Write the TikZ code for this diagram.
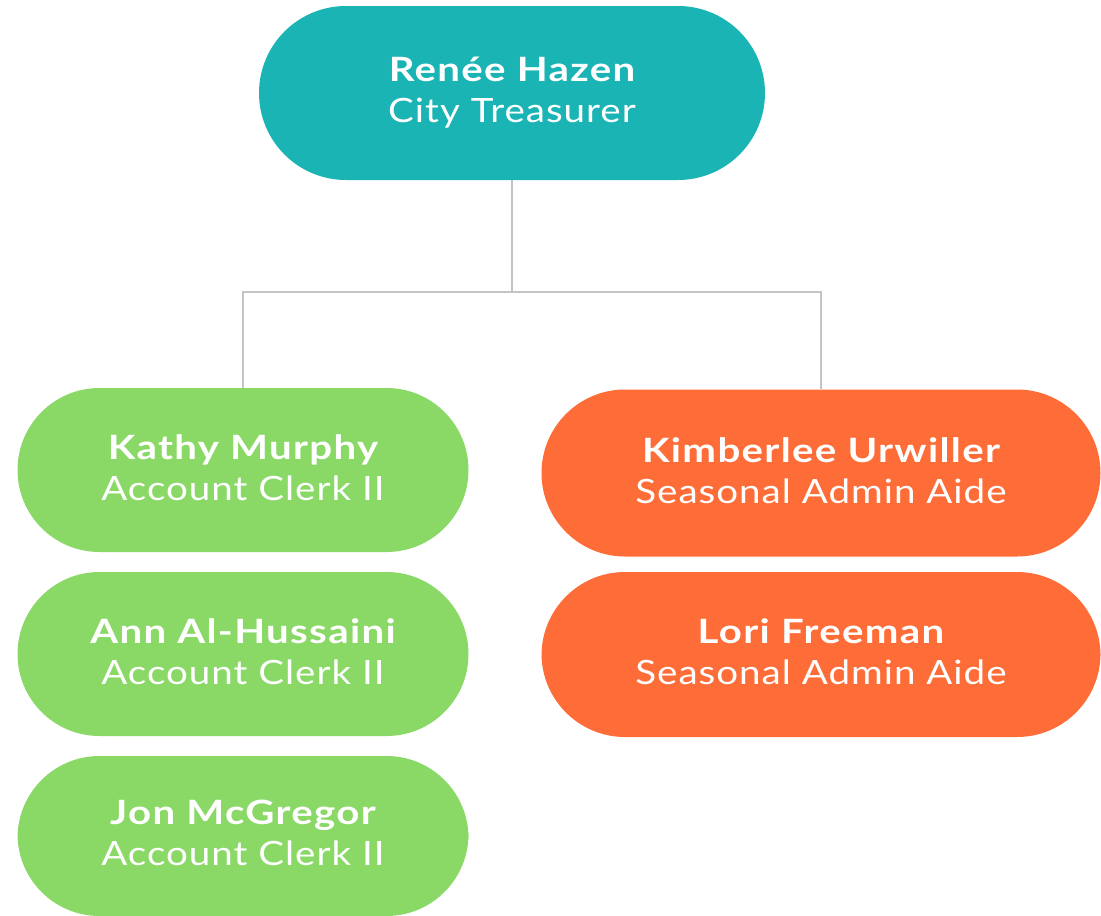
\documentclass[tikz,border=0pt]{standalone}
\usepackage{fontspec}
\setmainfont{Lato}
\newfontfamily\namefont{Lato}[UprightFont=* Bold, BoldFont=* Bold, FakeStretch=1.2, LetterSpace=4]
\newfontfamily\rolefont{Lato}[FakeStretch=1.15, LetterSpace=3]
\definecolor{teal}{HTML}{1BB4B5}
\definecolor{leaf}{HTML}{8AD967}
\definecolor{ember}{HTML}{FE6C37}
\definecolor{wire}{HTML}{C4C4C4}
\tikzset{
  x=1pt, y=-1pt,
  person/.style={rectangle, inner sep=0pt, text=white, align=center,
    font=\fontsize{33.5}{41}\selectfont},
  head/.style={person, fill=teal, minimum width=506pt, minimum height=174pt, rounded corners=87pt},
  clerk/.style={person, fill=leaf, minimum width=451pt, minimum height=164pt, rounded corners=82pt},
  aide/.style={person, fill=ember, minimum width=559pt, minimum height=167pt, rounded corners=83.5pt},
  conn/.style={draw=wire, line width=1.5pt},
}
% name in bold on the first line, job title below it
\newcommand{\who}[2]{{\namefont\vphantom{é}#1}\\{\rolefont #2\vphantom{y}}}
\begin{document}
\begin{tikzpicture}
\useasboundingbox (0,0) rectangle (1101,916);

\node[head]  (hazen)    at (512,93)    {\who{Renée Hazen}{City Treasurer}};
\node[clerk] (murphy)   at (243,470)   {\who{Kathy Murphy}{Account Clerk II}};
\node[clerk] (hussaini) at (243,654)   {\who{Ann Al-Hussaini}{Account Clerk II}};
\node[clerk, minimum height=160pt] (mcgregor) at (243,836) {\who{Jon McGregor}{Account Clerk II}};
\node[aide]  (urwiller) at (821,473)   {\who{Kimberlee Urwiller}{Seasonal Admin Aide}};
\node[aide, minimum height=165pt] (freeman) at (821,654.5) {\who{Lori Freeman}{Seasonal Admin Aide}};

% reporting lines
\coordinate (bus) at (512,292);
\draw[conn] (hazen.south) -- (bus);
\draw[conn] (murphy.north) |- (bus) -| (urwiller.north);
\end{tikzpicture}
\end{document}
